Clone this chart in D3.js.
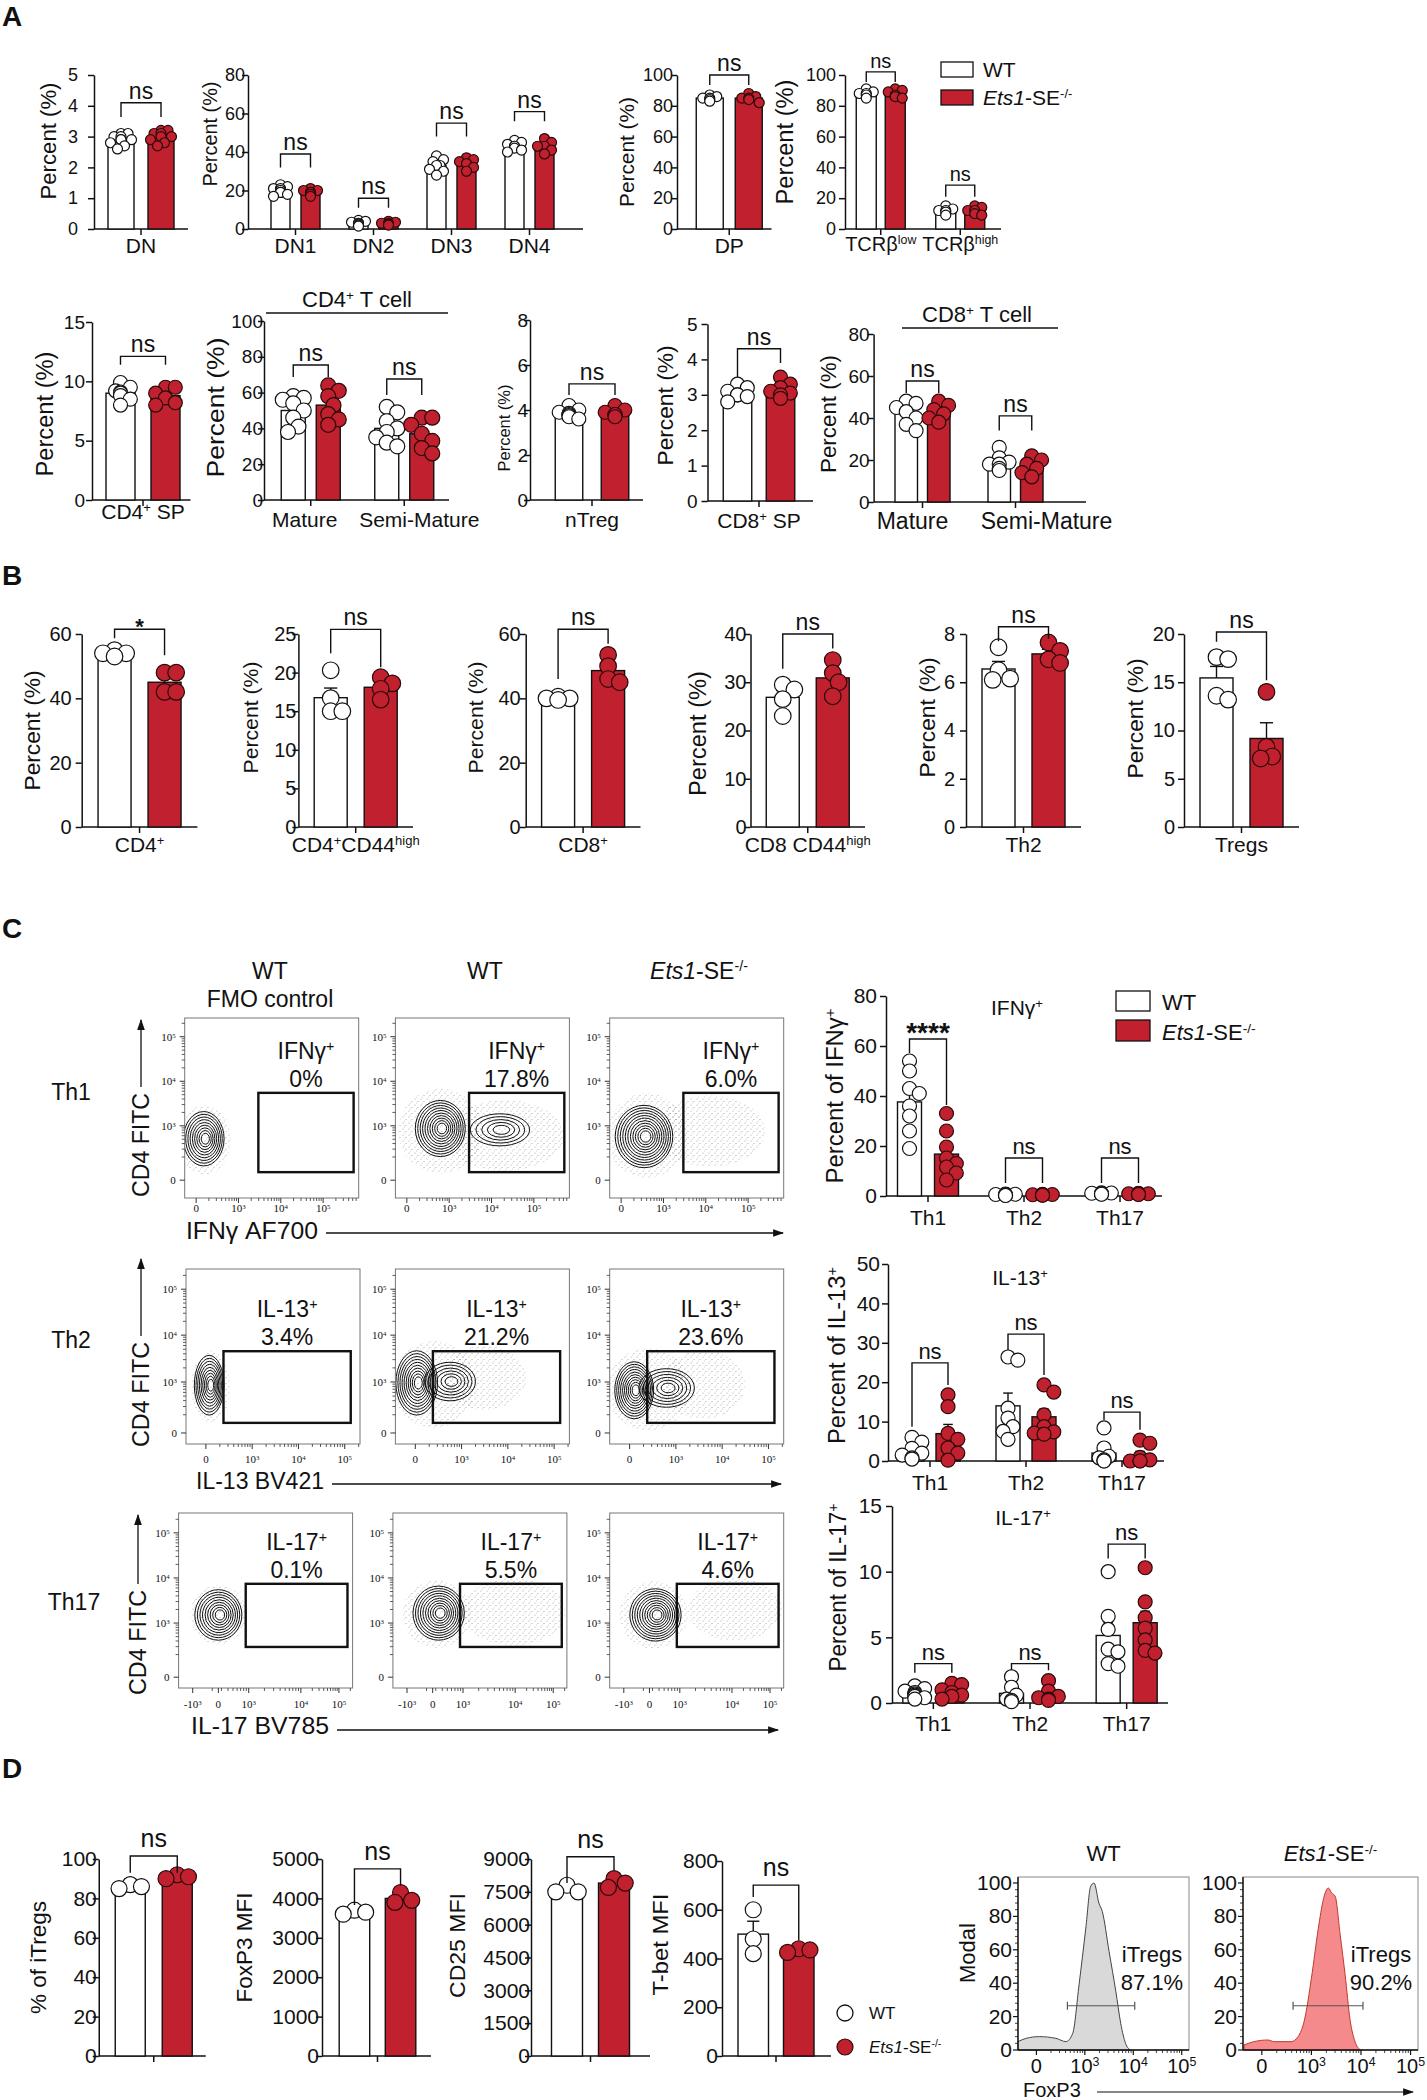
<!DOCTYPE html>
<html>
<head>
<meta charset="utf-8">
<script src="https://cdn.jsdelivr.net/npm/d3@7"></script>
<style>
body { margin: 0; background: #fff; }
svg { display: block; }
</style>
</head>
<body>
<svg id="fig" width="1427" height="2100"></svg>
<script>
// ---------- data ----------
// A, row 1
var dnCats = ["DN"];
var dnWT = [[2.7, 2.8, 3.0, 3.1, 2.9, 2.6, 3.0, 3.1, 2.9, 2.9]];
var dnKO = [[2.7, 2.8, 3.2, 3.1, 3.0, 2.9, 3.2, 3.0, 3.1]];
var dnSig = [["ns", 4.1, 3.64, 3.64]];
var dnTicks = [0, 1, 2, 3, 4, 5];

var dnSubCats = ["DN1", "DN2", "DN3", "DN4"];
var dnSubWT = [[17, 18, 19, 20, 21, 22, 23, 20, 19, 21], [1.5, 2, 3, 4, 4.5, 3, 2.5, 3.5], [28, 30, 31, 33, 35, 36, 38, 33], [40, 41, 42, 43, 44, 45, 46, 43]];
var dnSubKO = [[17, 18, 19, 20, 21, 19, 18, 20], [2, 3, 4, 3.5, 2.5, 3], [30, 32, 34, 36, 37, 35], [39, 41, 43, 45, 47, 43]];
var dnSubSig = [["ns", 39, 32, 32], ["ns", 16, 11, 11], ["ns", 55, 48, 48], ["ns", 61, 56, 56]];
var dnSubTicks = [0, 20, 40, 60, 80];

var dpCats = ["DP"];
var dpWT = [[83, 84, 85, 86, 87, 85]];
var dpKO = [[82, 84, 86, 88, 85, 85]];
var dpSig = [["ns", 100, 93.5, 93.5]];
var pctTicks = [0, 20, 40, 60, 80, 100];

var tcrCats = ["TCRβ^{low}", "TCRβ^{high}"];
var tcrWT = [[85, 87, 88, 89, 91, 88], [9, 11, 12, 13, 15, 12]];
var tcrKO = [[85, 87, 89, 90, 91, 86], [9, 10, 12, 14, 15, 12]];
var tcrSig = [["ns", 102, 95.5, 95.5], ["ns", 28.5, 21, 21]];

// A, row 2
var cd4spCats = ["CD4^{+} SP"];
var cd4spWT = [[8.0, 8.5, 8.8, 9.0, 9.2, 9.5, 9.9, 9.1]];
var cd4spKO = [[8.0, 8.2, 8.6, 9.0, 9.5, 9.5]];
var cd4spSig = [["ns", 12.1, 11.4, 11.4]];
var cd4spTicks = [0, 5, 10, 15];

var matCats = ["Mature", "Semi-Mature"];
var cd4tWT = [[38, 41, 46, 54, 56, 58, 57, 50], [32, 35, 38, 40, 44, 49, 52, 30]];
var cd4tKO = [[42, 45, 48, 53, 58, 61, 64], [26, 29, 33, 37, 42, 46, 46]];
var cd4tSig = [["ns", 75.4, 68.7, 68.7], ["ns", 67.6, 58.7, 58.7]];

var ntregCats = ["nTreg"];
var ntregWT = [[3.6, 3.7, 3.8, 3.9, 4.0, 4.2, 3.75, 3.85]];
var ntregKO = [[3.7, 3.8, 3.9, 4.0, 4.2, 3.8]];
var ntregSig = [["ns", 5.16, 4.67, 4.67]];
var ntregTicks = [0, 2, 4, 6, 8];

var cd8spCats = ["CD8^{+} SP"];
var cd8spWT = [[2.8, 2.95, 3.0, 3.1, 3.2, 3.3, 3.0]];
var cd8spKO = [[2.9, 3.0, 3.1, 3.2, 3.3, 3.5, 3.05]];
var cd8spSig = [["ns", 4.3, 3.5, 3.9]];

var cd8tWT = [[34, 37, 40, 43, 45, 47, 48], [15, 16, 18, 19, 21, 26, 18]];
var cd8tKO = [[38, 40, 42, 44, 46, 48], [12, 14, 16, 18, 20, 22]];
var cd8tSig = [["ns", 57.6, 51.9, 51.9], ["ns", 41, 34, 34]];

// B
var bCd4WT = [[54, 55, 53, 54]], bCd4KO = [[48, 48, 42, 42]], bCd4Sig = [["*", 61.5, 58.7, 53.4]];
var bCd4hWT = [[20.3, 16.7, 15, 15]], bCd4hKO = [[19.4, 18.6, 17.9, 16.5]], bCd4hSig = [["ns", 25.6, 22.5, 20.7]];
var bCd8WT = [[40, 40.5, 40, 39.5]], bCd8KO = [[53.5, 50, 46, 45]], bCd8Sig = [["ns", 61.5, 46, 57]];
var bCd8hWT = [[29.5, 28.5, 26.5, 23]], bCd8hKO = [[34.6, 31.9, 30, 27.1]], bCd8hSig = [["ns", 40, 32.8, 37]];
var bTh2WT = [[7.45, 6.5, 6.15, 6.1]], bTh2KO = [[7.65, 7.3, 6.95, 6.8]], bTh2Sig = [["ns", 8.3, 7.7, 7.8]];
var bTregWT = [[17.4, 17.6, 13.6, 13.2]], bTregKO = [[14, 8.3, 7.3, 7.1]], bTregSig = [["ns", 20.2, 19.2, 15.2]];

// C
var thCats = ["Th1", "Th2", "Th17"];
var ifnWT = [[54, 50, 43, 41, 36, 26, 19, 32], [0.3, 0.5, 0.8, 0.4, 0.6, 0.5, 0.2, 0.7], [0.8, 1.2, 1.0, 0.9, 1.1, 0.7, 1.3]];
var ifnKO = [[33, 26, 19.6, 15.2, 11.6, 9.2, 6.4, 13], [0.3, 0.5, 0.7, 0.4, 0.6, 0.5, 0.4], [0.6, 0.9, 1.1, 0.8, 0.7, 0.9]];
var ifnSig = [["****", 62.8, 57.2, 36.4], ["ns", 15.2, 5.2, 5.2], ["ns", 15.2, 5.2, 5.2]];
var il13WT = [[6, 4.8, 3.2, 2, 0.8, 1.5, 0.5], [26.4, 25.6, 13.4, 10.9, 8.7, 7.5, 5.5], [8.4, 0.8, 0.3, 0, 0, 3.3, 1.2]];
var il13KO = [[16.8, 13.8, 7, 5.5, 3.3, 2, 0.2], [19.3, 17.5, 11.7, 8.7, 7.4, 7.1, 6.8], [5.3, 4.5, 0.9, 0.3, 0, 0, 0]];
var il13Sig = [["ns", 24.9, 8.7, 19.3], ["ns", 32.2, 28.2, 21.8], ["ns", 12.4, 10.4, 7.9]];
var il13Ticks = [0, 10, 20, 30, 40, 50];
var il17WT = [[0.3, 0.5, 0.7, 0.9, 1.1, 1.3, 0.6, 0.4, 0.8], [2.0, 1.2, 0.6, 0.1, 0.3, 0.2], [10, 6.6, 5.6, 4.1, 3.9, 2.8, 3.0]];
var il17KO = [[0.5, 0.6, 0.8, 1.0, 1.5, 1.4, 0.3], [1.7, 0.9, 0.5, 0.3, 0.2, 0.4], [10.3, 7.7, 6.5, 5.7, 4.8, 4.0, 3.8]];
var il17Sig = [["ns", 3.0, 2.3, 2.3], ["ns", 3.0, 2.5, 2.5], ["ns", 12.1, 11, 11]];
var il17Ticks = [0, 5, 10, 15];

// D
var itregWT = [[85, 87, 86]], itregKO = [[90, 92, 91]], itregSig = [["ns", 101.5, 93, 93]];
var foxp3WT = [[3600, 3700, 3650]], foxp3KO = [[4150, 3950, 3900]], foxp3Sig = [["ns", 4750, 3830, 4330]];
var foxp3Ticks = [0, 1000, 2000, 3000, 4000, 5000];
var cd25WT = [[7500, 7800, 7500]], cd25KO = [[8100, 7700, 7900]], cd25Sig = [["ns", 9100, 7900, 8500]];
var cd25Ticks = [0, 1500, 3000, 4500, 6000, 7500, 9000];
var tbetWT = [[600, 480, 420]], tbetKO = [[440, 425, 435]], tbetSig = [["ns", 701, 652, 475]];
var tbetTicks = [0, 200, 400, 600, 800];

// C flow plots (axis units: decades of a biexponential scale)
var flowRowNames = ["Th1", "Th2", "Th17"];
var flowGateNames = ["IFNγ^{+}", "IL-13^{+}", "IL-17^{+}"];
var flowPct = [["0%", "17.8%", "6.0%"], ["3.4%", "21.2%", "23.6%"], ["0.1%", "5.5%", "4.6%"]];
var flowXNames = ["IFNγ AF700", "IL-13 BV421", "IL-17 BV785"];
var flowGates = [[1.47, 3.72, 0.18, 1.96], [0.38, 3.13, 0.22, 1.78], [0.64, 3.02, 0.67, 2.07]];
var flowXTicks = [
    [[0, "0"], [1, "10^{3}"], [2, "10^{4}"], [3, "10^{5}"]],
    [[0, "0"], [1, "10^{3}"], [2, "10^{4}"], [3, "10^{5}"]],
    [[-0.6, "-10^{3}"], [0, "0"], [0.71, "10^{3}"], [1.93, "10^{4}"], [2.82, "10^{5}"]]
];
var flowYTicks = [
    [[0, "0"], [1.22, "10^{3}"], [2.22, "10^{4}"], [3.22, "10^{5}"]],
    [[0, "0"], [1.11, "10^{3}"], [2.13, "10^{4}"], [3.13, "10^{5}"]],
    [[0, "0"], [1.2, "10^{3}"], [2.2, "10^{4}"], [3.2, "10^{5}"]]
];
var flowXDom = [[-0.27, 3.84], [-0.43, 3.33], [-0.93, 3.14]];
var flowYDom = [[-0.4, 3.64], [-0.24, 3.57], [-0.24, 3.64]];
// contour blobs: cx, cy, rx, ry, levels
var flowBlobs = [
    [[[0.18, 0.93, 0.48, 0.61, 9]], [[0.79, 1.16, 0.59, 0.63, 10], [2.2, 1.13, 0.7, 0.36, 5]], [[0.54, 0.98, 0.68, 0.7, 11]]],
    [[[0.07, 1.04, 0.32, 0.65, 9]], [[0.03, 1.09, 0.45, 0.7, 10], [0.75, 1.12, 0.55, 0.42, 6]], [[0.1, 0.93, 0.42, 0.62, 10], [0.8, 0.98, 0.6, 0.42, 6]]],
    [[[0, 1.38, 0.55, 0.56, 9]], [[0.14, 1.42, 0.6, 0.6, 10]], [[0.14, 1.38, 0.6, 0.58, 10]]]
];
// scattered event clouds: cx, cy, rx, ry
var flowClouds = [
    [[[0.2, 0.9, 0.62, 0.78]], [[0.8, 1.1, 1.0, 0.95], [2.3, 1.0, 1.4, 0.8]], [[0.6, 1.0, 0.95, 0.95], [2.1, 1.1, 1.3, 0.8]]],
    [[[0.1, 1.0, 0.42, 0.78]], [[0.4, 1.05, 0.9, 0.95], [1.5, 1.2, 0.9, 0.7]], [[0.4, 0.95, 0.9, 0.9], [1.6, 1.05, 0.9, 0.75]]],
    [[[0, 1.38, 0.66, 0.66]], [[0.1, 1.4, 0.8, 0.75], [1.9, 1.45, 1.2, 0.75]], [[0.1, 1.38, 0.8, 0.75], [2.0, 1.5, 1.1, 0.7]]]
];

// D histograms: [FoxP3 position, % of max]
var histWT = [[-0.38, 5], [-0.21, 7], [0.06, 8], [0.40, 7], [0.61, 5], [0.75, 10], [0.88, 39], [1.02, 73], [1.12, 98], [1.19, 100], [1.29, 88], [1.36, 83], [1.50, 59], [1.64, 35], [1.74, 16], [1.84, 4], [1.94, 0]];
var histKO = [[-0.36, 3], [-0.16, 5], [0.12, 6], [0.25, 5], [0.59, 5], [0.73, 8], [0.86, 18], [1.0, 43], [1.14, 73], [1.24, 90], [1.34, 97], [1.41, 94], [1.48, 92], [1.58, 69], [1.68, 45], [1.78, 18], [1.88, 5], [1.99, 0]];
var histPct = ["87.1%", "90.2%"];
var histGate = [[0.64, 2.03, 26.5], [0.63, 2.04, 26.5]];
var histTicks = [0, 20, 40, 60, 80, 100];
var histXTicks = [[0, "0"], [1, "10^{3}"], [2, "10^{4}"], [3, "10^{5}"]];

// ---------- drawing ----------
var FONT = '"Liberation Sans", Arial, sans-serif';
var SERIF = '"Liberation Serif", serif';
var RED = "#c1202f";
var INK = "#111";

var svg = d3.select("#fig");
var defs = svg.append("defs");
svg.append("rect").attr("width", 1427).attr("height", 2100).attr("fill", "#fff");

var mk = defs.append("marker").attr("id", "arr").attr("viewBox", "0 -5 10 10")
    .attr("refX", 9).attr("refY", 0).attr("markerWidth", 11).attr("markerHeight", 11)
    .attr("markerUnits", "userSpaceOnUse").attr("orient", "auto");
mk.append("path").attr("d", "M0,-3.5L10,0L0,3.5Z").attr("fill", INK);

var pat = defs.append("pattern").attr("id", "stip").attr("width", 6).attr("height", 6)
    .attr("patternUnits", "userSpaceOnUse");
[[1, 1, 0.5], [4, 3.5, 0.5], [2.5, 5, 0.4]].forEach(function (d) {
    pat.append("circle").attr("cx", d[0]).attr("cy", d[1]).attr("r", d[2]).attr("fill", "#222");
});

// text with ^{sup} and *{italic} markup
function rich(t, s) {
    String(s).split(/(\^\{[^}]*\}|\*\{[^}]*\})/).filter(function (p) { return p !== ""; }).forEach(function (p) {
        if (p[0] === "^" && p[1] === "{") {
            t.append("tspan").attr("baseline-shift", "super").attr("font-size", "62%").text(p.slice(2, -1));
        } else if (p[0] === "*" && p[1] === "{") {
            t.append("tspan").attr("font-style", "italic").text(p.slice(2, -1));
        } else {
            t.append("tspan").text(p);
        }
    });
    return t;
}

function label(x, y, s, o) {
    o = o || {};
    var t = svg.append("text").attr("x", x).attr("y", y)
        .attr("font-size", o.size || 20).attr("font-family", o.font || FONT)
        .attr("text-anchor", o.anchor || "start").attr("fill", INK);
    if (o.weight) t.attr("font-weight", o.weight);
    if (o.rotate) t.attr("transform", "rotate(-90," + x + "," + y + ")");
    if (o.len) t.attr("textLength", o.len).attr("lengthAdjust", "spacingAndGlyphs");
    return rich(t, s);
}

function line(x1, y1, x2, y2, w, col) {
    return svg.append("line").attr("x1", x1).attr("y1", y1).attr("x2", x2).attr("y2", y2)
        .attr("stroke", col || INK).attr("stroke-width", w || 1.5);
}

// simple deterministic beeswarm
function swarm(vals, y, r, maxDx) {
    var pts = vals.map(function (v) { return { v: v, py: y(v), dx: 0 }; })
        .sort(function (a, b) { return a.py - b.py; });
    var placed = [];
    pts.forEach(function (p) {
        for (var k = 0; k < 12; k++) {
            var dx = (k % 2 ? 1 : -1) * Math.ceil(k / 2) * r * 0.7;
            if (Math.abs(dx) > maxDx) continue;
            var ok = placed.every(function (q) { return Math.hypot(q.dx - dx, q.py - p.py) >= r * 1.25; });
            if (ok) { p.dx = dx; break; }
        }
        placed.push(p);
    });
    return placed;
}

function barChart(c) {
    var ymax = c.ticks[c.ticks.length - 1];
    var y = d3.scaleLinear().domain([0, ymax]).range([c.y0, c.yTop]);
    var x = d3.scaleBand().domain(d3.range(c.cats.length)).range([c.x + c.padL, c.x + c.w - c.padR]);
    var mid = function (i) { return x(i) + x.bandwidth() / 2; };

    var ya = svg.append("g").attr("transform", "translate(" + c.x + ",0)")
        .call(d3.axisLeft(y).tickValues(c.ticks).tickSize(6).tickSizeOuter(0)
            .tickPadding(c.tp - 6).tickFormat(function (d) { return d; }));
    ya.attr("font-family", FONT).attr("font-size", c.tickSize || 19);
    ya.selectAll("path,line").attr("stroke", INK).attr("stroke-width", 1.5);
    ya.selectAll("text").attr("fill", INK);

    line(c.x, c.y0, c.x + c.w, c.y0);
    c.cats.forEach(function (cat, i) {
        line(mid(i), c.y0, mid(i), c.y0 + 6);
        var dx = c.labDx ? c.labDx[i] : 0;
        if (cat) label(mid(i) + dx, c.labY, cat, { anchor: "middle", size: c.labSize || 21 });
    });

    c.cats.forEach(function (cat, i) {
        [c.wt[i], c.ko[i]].forEach(function (pts, s) {
            var m = d3.mean(pts), e = d3.deviation(pts) / Math.sqrt(pts.length);
            var bx = s === 0 ? mid(i) - c.gap / 2 - c.bw : mid(i) + c.gap / 2;
            var bc = bx + c.bw / 2;
            svg.append("rect").attr("x", bx).attr("y", y(m)).attr("width", c.bw).attr("height", c.y0 - y(m))
                .attr("fill", s ? RED : "#fff").attr("stroke", INK).attr("stroke-width", 1.4);
            line(bc, y(m), bc, y(m + e), 1.4);
            line(bc - c.bw * 0.2, y(m + e), bc + c.bw * 0.2, y(m + e), 1.4);
            swarm(pts, y, c.r, c.bw / 2).forEach(function (p) {
                svg.append("circle").attr("cx", bc + p.dx).attr("cy", p.py).attr("r", c.r)
                    .attr("fill", s ? RED : "#fff").attr("stroke", s ? "#2a0a0a" : INK).attr("stroke-width", 1.2);
            });
        });
        var sg = c.sig[i];
        var xa = mid(i) - c.gap / 2 - c.bw / 2, xb = mid(i) + c.gap / 2 + c.bw / 2;
        svg.append("path").attr("d", "M" + xa + "," + y(sg[2]) + "V" + y(sg[1]) + "H" + xb + "V" + y(sg[3]))
            .attr("fill", "none").attr("stroke", INK).attr("stroke-width", 1.4);
        if (sg[0].indexOf("*") >= 0) {
            label((xa + xb) / 2, y(sg[1]) + (c.starDy || 5), sg[0], { anchor: "middle", size: c.starSize || 22, weight: "bold" });
        } else {
            label((xa + xb) / 2, y(sg[1]) - (c.sigGap || 4), sg[0], { anchor: "middle", size: c.sigSize || 23 });
        }
    });

    label(c.yl, (c.y0 + c.yTop) / 2 + (c.ylOff || 0), c.ylab || "Percent (%)",
        { rotate: true, anchor: "middle", size: c.ylSize || 21, len: c.ylLen });
}

var A1 = { yTop: 75, y0: 229, r: 5, labY: 253, tickSize: 18 };
var B = { yTop: 634, y0: 827, bw: 33, gap: 17, padL: 16, padR: 16, r: 8.3, labY: 852, labSize: 21, tickSize: 20, sigSize: 23 };
var D = { yTop: 1859, y0: 2056, r: 8, sigSize: 25, sigGap: 9, tickSize: 21, ylSize: 22 };
var C = { tickSize: 21, labSize: 21, sigSize: 22, starSize: 28, starDy: 3, r: 7, bw: 24 };

var charts = [
    Object.assign({}, A1, { cats: dnCats, wt: dnWT, ko: dnKO, sig: dnSig, ticks: dnTicks, x: 94, w: 94, padL: 14, padR: 14, bw: 26, gap: 14, tp: 16, yl: 56, ylOff: -11, ylLen: 117, ylSize: 22 }),
    Object.assign({}, A1, { cats: dnSubCats, wt: dnSubWT, ko: dnSubKO, sig: dnSubSig, ticks: dnSubTicks, x: 248, w: 335, padL: 8.5, padR: 14.5, bw: 19, gap: 11, tp: 3, yl: 217, ylOff: -18, ylLen: 105, ylSize: 20 }),
    Object.assign({}, A1, { cats: dpCats, wt: dpWT, ko: dpKO, sig: dpSig, ticks: pctTicks, x: 677, w: 94.5, padL: 14, padR: 4, bw: 27, gap: 12, tp: 4, yl: 634, ylOff: 0, ylLen: 110, ylSize: 21 }),
    Object.assign({}, A1, { cats: tcrCats, wt: tcrWT, ko: tcrKO, sig: tcrSig, ticks: pctTicks, x: 845, w: 156, padL: -4, padR: 1, bw: 20, gap: 9, tp: 9, yl: 793, ylOff: -10, ylLen: 125, ylSize: 23, labY: 251, labSize: 20, sigSize: 20 }),

    { cats: cd4spCats, wt: cd4spWT, ko: cd4spKO, sig: cd4spSig, ticks: cd4spTicks, x: 92, w: 98.5, yTop: 322, y0: 500, padL: 12, padR: 8.5, bw: 29, gap: 16, r: 7, tp: 7, yl: 53, ylOff: 3, ylLen: 125, ylSize: 23, labY: 519 },
    { cats: matCats, wt: cd4tWT, ko: cd4tKO, sig: cd4tSig, ticks: pctTicks, x: 264, w: 185, yTop: 321, y0: 500, padL: 0, padR: -2, bw: 24, gap: 11, r: 7.5, tp: 1, yl: 224, ylOff: -3, ylLen: 140, ylSize: 24, labY: 527, labSize: 21, labDx: [-6, 15] },
    { cats: ntregCats, wt: ntregWT, ko: ntregKO, sig: ntregSig, ticks: ntregTicks, x: 530, w: 113, yTop: 320, y0: 500, padL: 14, padR: 3, bw: 27.5, gap: 18.5, r: 7, tp: 2, yl: 510, ylOff: 18, ylLen: 87, ylSize: 17, labY: 527 },
    { cats: cd8spCats, wt: cd8spWT, ko: cd8spKO, sig: cd8spSig, ticks: dnTicks, x: 707.5, w: 105.5, yTop: 324, y0: 501, padL: 12, padR: 14.5, bw: 28.5, gap: 14.5, r: 7, tp: 10, yl: 673, ylOff: -7, ylLen: 120, ylSize: 22, labY: 528 },
    { cats: matCats, wt: cd8tWT, ko: cd8tKO, sig: cd8tSig, ticks: dnSubTicks, x: 873.6, w: 212.4, yTop: 334, y0: 502, padL: 2.4, padR: 24, bw: 22.5, gap: 10, r: 7, tp: 4, yl: 836, ylOff: -4, ylLen: 118, ylSize: 22, labY: 529, labSize: 23, labDx: [-10, 31] },

    Object.assign({}, B, { cats: ["CD4^{+}"], wt: bCd4WT, ko: bCd4KO, sig: bCd4Sig, ticks: [0, 20, 40, 60], x: 81.7, w: 115.7, tp: 10, yl: 40, ylOff: 0, ylLen: 120, ylSize: 22 }),
    Object.assign({}, B, { cats: ["CD4^{+}CD44^{high}"], wt: bCd4hWT, ko: bCd4hKO, sig: bCd4hSig, ticks: [0, 5, 10, 15, 20, 25], x: 298.4, w: 114.6, tp: 2, yl: 258, ylOff: -13, ylLen: 112, ylSize: 21 }),
    Object.assign({}, B, { cats: ["CD8^{+}"], wt: bCd8WT, ko: bCd8KO, sig: bCd8Sig, ticks: [0, 20, 40, 60], x: 525.7, w: 114.8, tp: 5, yl: 483, ylOff: -13, ylLen: 112, ylSize: 21 }),
    Object.assign({}, B, { cats: ["CD8 CD44^{high}"], wt: bCd8hWT, ko: bCd8hKO, sig: bCd8hSig, ticks: [0, 10, 20, 30, 40], x: 750.5, w: 114.5, tp: 4, yl: 706, ylOff: 3, ylLen: 125, ylSize: 23 }),
    Object.assign({}, B, { cats: ["Th2"], wt: bTh2WT, ko: bTh2KO, sig: bTh2Sig, ticks: [0, 2, 4, 6, 8], x: 966, w: 115, tp: 11, yl: 935, ylOff: -13, ylLen: 120, ylSize: 22 }),
    Object.assign({}, B, { cats: ["Tregs"], wt: bTregWT, ko: bTregKO, sig: bTregSig, ticks: [0, 5, 10, 15, 20], x: 1184, w: 115, tp: 9, yl: 1143, ylOff: -12, ylLen: 120, ylSize: 22 }),

    Object.assign({}, C, { cats: thCats, wt: ifnWT, ko: ifnKO, sig: ifnSig, ticks: dnSubTicks, x: 886, w: 276, yTop: 996, y0: 1196, padL: -6, padR: -6, gap: 13, tp: 9, yl: 843, ylOff: 0, ylLen: 175, ylSize: 23, labY: 1225, ylab: "Percent of IFNγ^{+}" }),
    Object.assign({}, C, { cats: thCats, wt: il13WT, ko: il13KO, sig: il13Sig, ticks: il13Ticks, x: 888, w: 276, yTop: 1264, y0: 1461, padL: -6, padR: -6, gap: 12, tp: 8, yl: 845, ylOff: -7, ylLen: 177, ylSize: 23, labY: 1490, ylab: "Percent of IL-13^{+}" }),
    Object.assign({}, C, { cats: thCats, wt: il17WT, ko: il17KO, sig: il17Sig, ticks: il17Ticks, x: 892, w: 276, yTop: 1506, y0: 1703, padL: -7, padR: -7, gap: 13, tp: 10, yl: 846, ylOff: -17, ylLen: 168, ylSize: 23, labY: 1731, ylab: "Percent of IL-17^{+}" }),

    Object.assign({}, D, { cats: [""], wt: itregWT, ko: itregKO, sig: itregSig, ticks: pctTicks, x: 98.75, w: 107, padL: 16, padR: 13, bw: 30, gap: 17, tp: 2, yl: 46, ylOff: 0, ylLen: 113, ylab: "% of iTregs" }),
    Object.assign({}, D, { cats: [""], wt: foxp3WT, ko: foxp3KO, sig: foxp3Sig, ticks: foxp3Ticks, x: 322, w: 109, padL: 16, padR: 14, bw: 30.5, gap: 15.6, tp: 3, yl: 252, ylOff: -10, ylLen: 110, ylab: "FoxP3 MFI" }),
    Object.assign({}, D, { cats: [""], wt: cd25WT, ko: cd25KO, sig: cd25Sig, ticks: cd25Ticks, x: 531, w: 119, padL: 21, padR: 21, bw: 31, gap: 16, tp: 1, yl: 465, ylOff: -12, ylLen: 105, ylab: "CD25 MFI" }),
    Object.assign({}, D, { cats: [""], wt: tbetWT, ko: tbetKO, sig: tbetSig, ticks: tbetTicks, x: 722, w: 109, yTop: 1861, padL: 15, padR: 16, bw: 30.5, gap: 15, tp: 4, yl: 668, ylOff: -14, ylLen: 102, ylab: "T-bet MFI" })
];
charts.forEach(barChart);

// panel letters
[["A", 26], ["B", 585], ["C", 938], ["D", 1778]].forEach(function (p) {
    label(2, p[1], p[0], { size: 28, weight: "bold" });
});

// group headers in A
line(266, 313, 448, 313, 1.4);
label(357, 307, "CD4^{+} T cell", { anchor: "middle", size: 22 });
line(902, 328, 1058, 328, 1.4);
label(977, 322, "CD8^{+} T cell", { anchor: "middle", size: 22 });

// legend A
svg.append("rect").attr("x", 941).attr("y", 62).attr("width", 32).attr("height", 15).attr("fill", "#fff").attr("stroke", INK).attr("stroke-width", 1.3);
svg.append("rect").attr("x", 941).attr("y", 90).attr("width", 32).attr("height", 15).attr("fill", RED).attr("stroke", INK).attr("stroke-width", 1.3);
label(983, 77, "WT", { size: 21 });
label(983, 105, "*{Ets1}-SE^{-/-}", { size: 21 });

// legend C
svg.append("rect").attr("x", 1116).attr("y", 991).attr("width", 34).attr("height", 20).attr("fill", "#fff").attr("stroke", INK).attr("stroke-width", 1.3);
svg.append("rect").attr("x", 1116).attr("y", 1020).attr("width", 34).attr("height", 21).attr("fill", RED).attr("stroke", INK).attr("stroke-width", 1.3);
label(1162, 1010, "WT", { size: 22 });
label(1162, 1040, "*{Ets1}-SE^{-/-}", { size: 22 });

// C bar chart titles
label(1017, 1015, "IFNγ^{+}", { anchor: "middle", size: 21 });
label(1020, 1285, "IL-13^{+}", { anchor: "middle", size: 21 });
label(1023, 1525, "IL-17^{+}", { anchor: "middle", size: 21 });

// legend D
svg.append("circle").attr("cx", 845).attr("cy", 2013).attr("r", 8).attr("fill", "#fff").attr("stroke", INK).attr("stroke-width", 1.3);
svg.append("circle").attr("cx", 845).attr("cy", 2047).attr("r", 8).attr("fill", RED).attr("stroke", "#2a0a0a").attr("stroke-width", 1.2);
label(869, 2019, "WT", { size: 17 });
label(869, 2053, "*{Ets1}-SE^{-/-}", { size: 17 });

// ---------- flow plots ----------
var flowBox = [
    { top: 1018, bottom: 1198, lefts: [184.7, 395.4, 609.7], tickDy: 14 },
    { top: 1269, bottom: 1444, lefts: [186, 395.4, 609.7], tickDy: 19 },
    { top: 1513, bottom: 1688, lefts: [178.6, 392.9, 609.7], tickDy: 20 }
];
var FLOW_W = 174;

function logMinor(ticks, lo, hi) {
    var dec = ticks.filter(function (t) { return /^10/.test(t[1]); }).map(function (t) { return t[0]; });
    var out = [];
    dec.forEach(function (v, i) {
        var gap = i < dec.length - 1 ? dec[i + 1] - v : v - dec[i - 1];
        for (var k = 2; k <= 9; k++) {
            out.push(v + Math.log10(k) * gap);
            if (i === 0) out.push(v - gap + Math.log10(k) * gap);
        }
    });
    return out.filter(function (u) { return u > lo && u < hi; });
}

function flowPlot(ri, ci) {
    var L = flowBox[ri];
    var x0 = L.lefts[ci];
    var x = d3.scaleLinear().domain(flowXDom[ri]).range([x0, x0 + FLOW_W]);
    var y = d3.scaleLinear().domain(flowYDom[ri]).range([L.bottom, L.top]);
    var cid = "fc" + ri + ci;
    defs.append("clipPath").attr("id", cid).append("rect")
        .attr("x", x0).attr("y", L.top).attr("width", FLOW_W).attr("height", L.bottom - L.top);
    var inner = svg.append("g").attr("clip-path", "url(#" + cid + ")");
    var ux = x(1) - x(0), uy = y(0) - y(1);

    flowClouds[ri][ci].forEach(function (d) {
        inner.append("ellipse").attr("cx", x(d[0])).attr("cy", y(d[1]))
            .attr("rx", d[2] * ux).attr("ry", d[3] * uy).attr("fill", "url(#stip)").attr("opacity", 0.5);
    });
    flowBlobs[ri][ci].forEach(function (d) {
        var n = d[4];
        for (var k = 0; k < n; k++) {
            var s = 1 - k * (0.9 / n);
            inner.append("ellipse").attr("cx", x(d[0]) + (1 - s) * 2).attr("cy", y(d[1]))
                .attr("rx", d[2] * ux * s).attr("ry", d[3] * uy * s)
                .attr("fill", "none").attr("stroke", INK).attr("stroke-width", 1);
        }
    });

    svg.append("rect").attr("x", x0).attr("y", L.top).attr("width", FLOW_W).attr("height", L.bottom - L.top)
        .attr("fill", "none").attr("stroke", "#777").attr("stroke-width", 1);

    var gt = flowGates[ri];
    svg.append("rect").attr("x", x(gt[0])).attr("y", y(gt[3])).attr("width", x(gt[1]) - x(gt[0]))
        .attr("height", y(gt[2]) - y(gt[3])).attr("fill", "none").attr("stroke", INK).attr("stroke-width", 2.4);
    var gx = (x(gt[0]) + x(gt[1])) / 2;
    label(gx, y(gt[3]) - 34, flowGateNames[ri], { anchor: "middle", size: 23 });
    label(gx, y(gt[3]) - 6, flowPct[ri][ci], { anchor: "middle", size: 23 });

    // axis ticks
    flowYTicks[ri].forEach(function (t) {
        line(x0 - 5, y(t[0]), x0, y(t[0]), 1, "#333");
        label(x0 - 9, y(t[0]) + 4, t[1], { anchor: "end", size: 11, font: SERIF });
    });
    logMinor(flowYTicks[ri], flowYDom[ri][0], flowYDom[ri][1]).forEach(function (u) {
        line(x0 - 3, y(u), x0, y(u), 0.8, "#333");
    });
    flowXTicks[ri].forEach(function (t) {
        line(x(t[0]), L.bottom, x(t[0]), L.bottom + 5, 1, "#333");
        label(x(t[0]), L.bottom + L.tickDy, t[1], { anchor: "middle", size: 11, font: SERIF });
    });
    logMinor(flowXTicks[ri], flowXDom[ri][0], flowXDom[ri][1]).forEach(function (u) {
        line(x(u), L.bottom, x(u), L.bottom + 3, 0.8, "#333");
    });
}

for (var ri = 0; ri < 3; ri++) {
    for (var ci = 0; ci < 3; ci++) flowPlot(ri, ci);
}

// column headers
label(270, 979, "WT", { anchor: "middle", size: 23 });
label(270, 1007, "FMO control", { anchor: "middle", size: 23 });
label(485, 979, "WT", { anchor: "middle", size: 23 });
label(699, 979, "*{Ets1}-SE^{-/-}", { anchor: "middle", size: 23 });

// row labels and axis titles
var flowYLab = [
    { base: 149, top: 1093, bottom: 1197, arrow: 1020, ly: 1100, lx: 71 },
    { base: 149, top: 1342, bottom: 1447, arrow: 1259, ly: 1348, lx: 71 },
    { base: 146, top: 1590, bottom: 1695, arrow: 1515, ly: 1610, lx: 74 }
];
var flowXLab = [
    { x: 186, y: 1239, a0: 326, a1: 783, ay: 1233 },
    { x: 196, y: 1489, a0: 332, a1: 781, ay: 1484 },
    { x: 191, y: 1734, a0: 337, a1: 778, ay: 1730 }
];
flowRowNames.forEach(function (nm, i) {
    var a = flowYLab[i], b = flowXLab[i];
    label(a.lx, a.ly, nm, { anchor: "middle", size: 23 });
    label(a.base, a.bottom, "CD4 FITC", { rotate: true, size: 23, len: a.bottom - a.top });
    line(a.base - 8, a.top - 6, a.base - 8, a.arrow, 1.3).attr("marker-end", "url(#arr)");
    label(b.x, b.y, flowXNames[i], { size: 23, len: b.a0 - b.x - 8 });
    line(b.a0, b.ay, b.a1, b.ay, 1.3).attr("marker-end", "url(#arr)");
});

// ---------- FoxP3 histograms ----------
var histBox = [
    { x0: 1018, w: 171, title: "WT", fill: "#d9d9d9", stroke: "#444", data: histWT },
    { x0: 1243, w: 175, title: "*{Ets1}-SE^{-/-}", fill: "#f48a8c", stroke: "#c0392b", data: histKO }
];
var H_TOP = 1877, H_Y100 = 1883, H_Y0 = 2050;
histBox.forEach(function (h, i) {
    var x = d3.scaleLinear().domain([-0.38, 3.15]).range([h.x0, h.x0 + h.w]);
    var y = d3.scaleLinear().domain([0, 100]).range([H_Y0, H_Y100]);
    svg.append("rect").attr("x", h.x0).attr("y", H_TOP).attr("width", h.w).attr("height", H_Y0 - H_TOP)
        .attr("fill", "none").attr("stroke", "#888").attr("stroke-width", 1);
    var area = d3.area().x(function (d) { return x(d[0]); }).y0(y(0)).y1(function (d) { return y(d[1]); })
        .curve(d3.curveMonotoneX);
    svg.append("path").datum(h.data).attr("d", area).attr("fill", h.fill)
        .attr("stroke", h.stroke).attr("stroke-width", 1);
    line(h.x0, H_TOP, h.x0, H_Y0, 1.4);
    line(h.x0, H_Y0, h.x0 + h.w, H_Y0, 1.4);
    histTicks.forEach(function (t) {
        line(h.x0 - 5, y(t), h.x0, y(t), 1.2);
        label(h.x0 - 6, y(t) + 7, String(t), { anchor: "end", size: 21 });
    });
    d3.range(4, 100, 4).forEach(function (t) {
        if (t % 20) line(h.x0 - 3, y(t), h.x0, y(t), 0.8);
    });
    histXTicks.forEach(function (t) {
        line(x(t[0]), H_Y0, x(t[0]), H_Y0 + 5, 1.2);
        label(x(t[0]), H_Y0 + 23, t[1], { anchor: "middle", size: 20 });
    });
    logMinor(histXTicks, -0.38, 3.15).forEach(function (u) {
        line(x(u), H_Y0, x(u), H_Y0 + 3, 0.8);
    });
    var g = histGate[i];
    line(x(g[0]), y(g[2]), x(g[1]), y(g[2]), 1.2, "#555");
    line(x(g[0]), y(g[2]) - 4, x(g[0]), y(g[2]) + 4, 1.2, "#555");
    line(x(g[1]), y(g[2]) - 4, x(g[1]), y(g[2]) + 4, 1.2, "#555");
    label(h.x0 + h.w - 37, 1962, "iTregs", { anchor: "middle", size: 22 });
    label(h.x0 + h.w - 37, 1990, histPct[i], { anchor: "middle", size: 22 });
    label(h.x0 + h.w / 2, 1861, h.title, { anchor: "middle", size: 22 });
});
label(975, 1953, "Modal", { rotate: true, anchor: "middle", size: 22 });
label(1023, 2097, "FoxP3", { size: 20 });
line(1097, 2092, 1413, 2092, 1.2).attr("marker-end", "url(#arr)");
</script>
</body>
</html>
